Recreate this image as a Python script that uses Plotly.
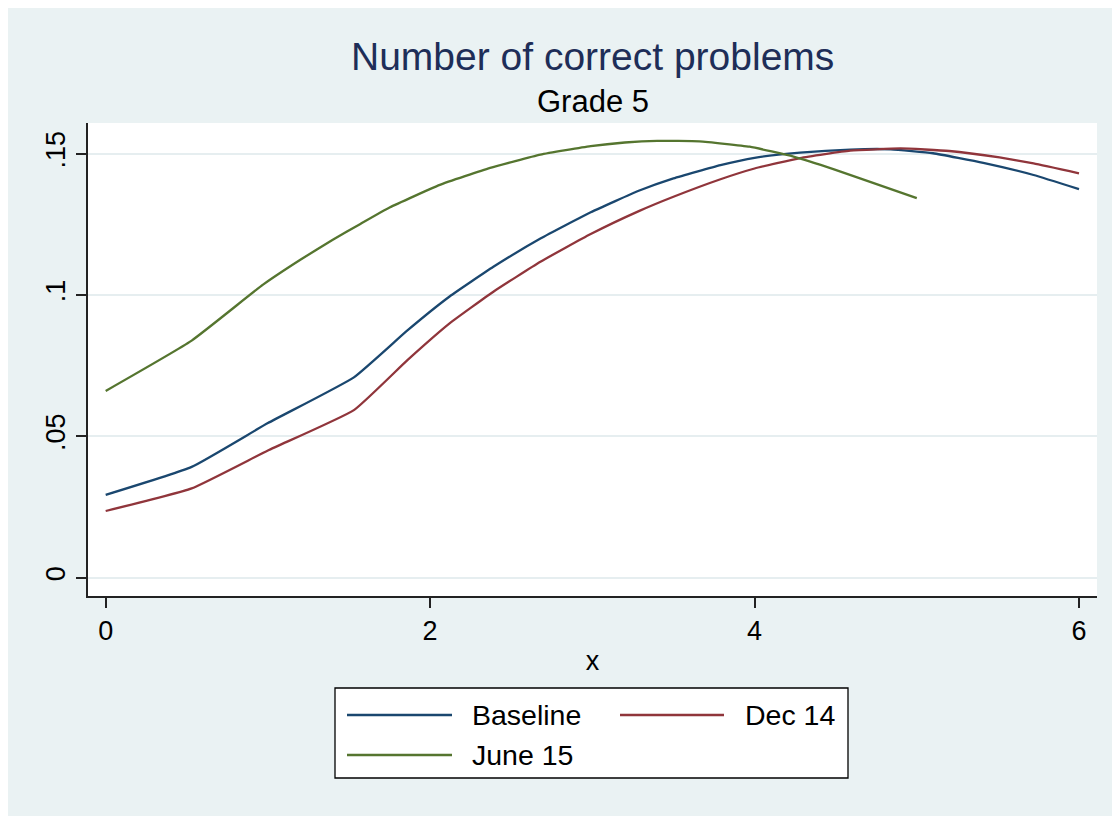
import plotly.graph_objects as go

# ---- data ----
x_baseline = [0, 0.53, 1.0, 1.53, 1.86, 2.12, 2.39, 2.68, 2.99, 3.29, 3.5, 3.79, 4.0, 4.28, 4.59, 4.84, 5.1, 5.41, 5.72, 6.0]
y_baseline = [0.0293, 0.0392, 0.0547, 0.0709, 0.0875, 0.0995, 0.1100, 0.1200, 0.1293, 0.1370, 0.1413, 0.1460, 0.1486, 0.1504, 0.1515, 0.1516, 0.1502, 0.1468, 0.1425, 0.1375]

x_dec14 = [0, 0.53, 1.0, 1.53, 1.86, 2.12, 2.39, 2.68, 2.99, 3.29, 3.5, 3.79, 4.0, 4.28, 4.59, 4.9, 5.2, 5.51, 5.72, 6.0]
y_dec14 = [0.0236, 0.0316, 0.0450, 0.0593, 0.0770, 0.0900, 0.1012, 0.1118, 0.1216, 0.1298, 0.1348, 0.1410, 0.1448, 0.1485, 0.1511, 0.1519, 0.1510, 0.1487, 0.1466, 0.1431]

x_june15 = [0, 0.53, 0.97, 1.2, 1.4, 1.57, 1.75, 2.06, 2.37, 2.68, 2.99, 3.2, 3.4, 3.66, 3.97, 4.24, 4.49, 4.73, 5.0]
y_june15 = [0.0661, 0.0839, 0.1037, 0.1125, 0.1196, 0.1252, 0.1310, 0.1390, 0.1450, 0.1497, 0.1527, 0.1540, 0.1546, 0.1544, 0.1525, 0.1490, 0.1445, 0.1397, 0.1343]

series_names = ["Baseline", "Dec 14", "June 15"]
series_colors = ["#1A476F", "#90353B", "#55752F"]

x_ticks = [0, 2, 4, 6]
y_ticks = [0, 0.05, 0.1, 0.15]
y_ticklabels = ["0", ".05", ".1", ".15"]

title_text = "Number of correct problems"
subtitle_text = "Grade 5"
x_title = "x"

# ---- layout geometry (pixels, in reference-image coordinates) ----
OFF = 8  # page body margin
W, H = 1120 - OFF, 816 - OFF
L, R, T, B = 88, 1097, 123, 596
pw, ph = R - L, B - T


def px_x(p):
    return (p - L) / pw


def px_y(p):
    return (B - p) / ph


FONT = "Liberation Sans, Arial, sans-serif"
BG = "#EAF2F3"

fig = go.Figure()
for xs, ys, name, col in zip([x_baseline, x_dec14, x_june15],
                             [y_baseline, y_dec14, y_june15],
                             series_names, series_colors):
    fig.add_trace(go.Scatter(x=xs, y=ys, mode="lines", name=name,
                             line=dict(color=col, width=2.3, shape="spline", smoothing=0.4),
                             showlegend=False))

shapes = [
    dict(type="rect", xref="paper", yref="paper",
         x0=px_x(0), x1=px_x(1130), y0=px_y(830), y1=px_y(0),
         fillcolor=BG, line=dict(width=0), layer="below"),
    dict(type="rect", xref="paper", yref="paper", x0=0, x1=1, y0=0, y1=1,
         fillcolor="white", line=dict(width=0), layer="below"),
    dict(type="rect", xref="paper", yref="paper",
         x0=px_x(335), x1=px_x(848), y0=px_y(778), y1=px_y(688),
         fillcolor="white", line=dict(color="black", width=1.3), layer="above"),
]

legend_pos = [(347, 452, 715, 470), (620, 724, 715, 743), (347, 452, 755, 470)]
annotations = []
for (lx0, lx1, ly, tx), name, col in zip(legend_pos, series_names, series_colors):
    shapes.append(dict(type="line", xref="paper", yref="paper",
                       x0=px_x(lx0), x1=px_x(lx1), y0=px_y(ly), y1=px_y(ly),
                       line=dict(color=col, width=2.3), layer="above"))
    annotations.append(dict(text=name, xref="paper", yref="paper",
                            x=px_x(tx), y=px_y(ly), xanchor="left", yanchor="middle",
                            showarrow=False, font=dict(family=FONT, size=28.5, color="black")))

annotations.append(dict(text=title_text, xref="paper", yref="paper", x=0.5, y=px_y(57),
                        xanchor="center", yanchor="middle", showarrow=False,
                        font=dict(family=FONT, size=39, color="#1E2E58")))
annotations.append(dict(text=subtitle_text, xref="paper", yref="paper", x=0.5, y=px_y(102),
                        xanchor="center", yanchor="middle", showarrow=False,
                        font=dict(family=FONT, size=31, color="black")))

fig.update_layout(
    width=W, height=H,
    margin=dict(l=L - OFF, r=W - (R - OFF), t=T - OFF, b=H - (B - OFF), pad=0),
    paper_bgcolor=BG,
    plot_bgcolor="white",
    shapes=shapes,
    annotations=annotations,
    showlegend=False,
    font=dict(family=FONT, color="black"),
)

fig.update_xaxes(
    range=[-0.109, 6.111],
    tickvals=x_ticks,
    ticks="outside", ticklen=10, tickwidth=1.5, tickcolor="#222222",
    tickfont=dict(family=FONT, size=27, color="black"),
    showline=True, linecolor="#222222", linewidth=1.5, mirror=False,
    showgrid=False, zeroline=False,
    title=dict(text=x_title, font=dict(family=FONT, size=27, color="black"), standoff=6),
)

fig.update_yaxes(
    range=[-0.00648, 0.1609],
    tickvals=y_ticks, ticktext=y_ticklabels, tickangle=-90,
    ticks="outside", ticklen=10, tickwidth=1.5, tickcolor="#222222",
    tickfont=dict(family=FONT, size=27, color="black"),
    showline=True, linecolor="#222222", linewidth=1.5, mirror=False,
    showgrid=True, gridcolor="#E6EEF0", gridwidth=2, zeroline=False,
)

fig.write_html("out.html")
